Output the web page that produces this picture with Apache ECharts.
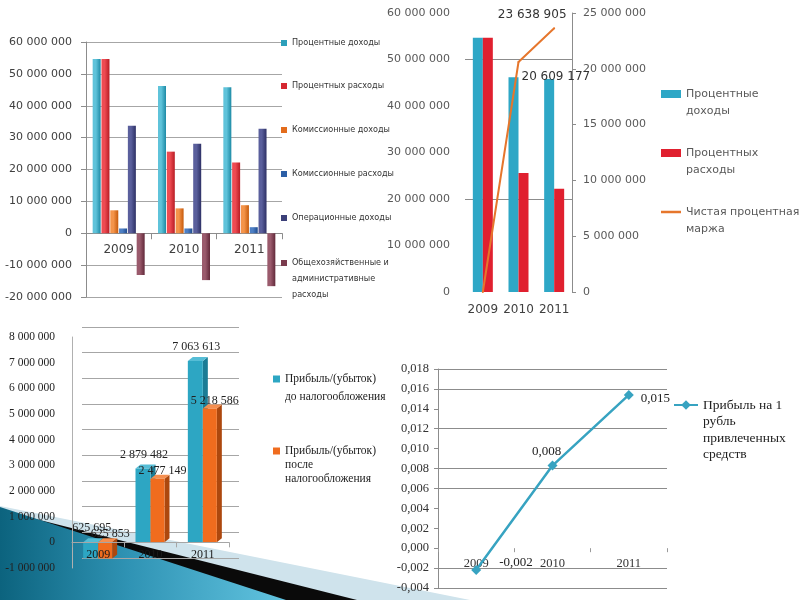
<!DOCTYPE html>
<html><head><meta charset="utf-8">
<script src="https://cdn.jsdelivr.net/npm/echarts/dist/echarts.min.js"></script>
<style>html,body{margin:0;padding:0;background:#fff}#c{width:800px;height:600px}</style>
</head><body><div id="c"></div>
<script>
// ---------- DATA ----------
const years = ['2009', '2010', '2011'];

// Chart 1 (top-left)
const names1 = ['Процентные доходы', 'Процентных расходы', 'Комиссионные доходы', 'Комиссионные расходы', 'Операционные доходы', 'Общехозяйственные и административные расходы'];
const interestIncome    = [54700000, 46200000, 45800000];
const interestExpense   = [54700000, 25600000, 22200000];
const commissionIncome  = [7200000, 7800000, 8800000];
const commissionExpense = [1500000, 1500000, 1900000];
const operatingIncome   = [33700000, 28100000, 32800000];
const adminExpense      = [-13100000, -14700000, -16600000];

// Chart 2 (top-right)
const names2 = ['Процентные доходы', 'Процентных расходы', 'Чистая процентная маржа'];
const netInterestMargin = [0, 20609177, 23638905];

// Chart 3 (bottom-left)
const names3 = ['Прибыль/(убыток) до налогообложения', 'Прибыль/(убыток) после налогообложения'];
const profitBeforeTax = [-625695, 2879482, 7063613];
const profitAfterTax  = [-625853, 2477149, 5218586];

// Chart 4 (bottom-right)
const names4 = ['Прибыль на 1 рубль привлеченных средств'];
const profitPerRuble = [-0.0022, 0.0083, 0.0154];

// ---------- HELPERS ----------
const SANS = "'DejaVu Sans', sans-serif";
const COND = "'Liberation Sans Narrow', 'DejaVu Sans Condensed', 'DejaVu Sans', sans-serif";
const SERIF = "'Liberation Serif', 'DejaVu Serif', serif";
function fmtInt(v) {
  const s = Math.round(Math.abs(v)).toString().replace(/\B(?=(\d{3})+(?!\d))/g, ' ');
  return (v < 0 ? '-' : '') + s;
}
function fmtDec(v) { return v.toFixed(3).replace('.', ','); }
function grad(a, b) {
  return new echarts.graphic.LinearGradient(0, 0, 1, 0, [{offset: 0, color: a}, {offset: 0.4, color: a}, {offset: 1, color: b}]);
}
function zeroOffset(h, min, max) { return -h * (0 - min) / (max - min); }
function mkLegend(name, left, yc, lines, L, font, o) {
  const n = lines.length;
  const pad = [];
  for (let i = 0; i < n - 1; i++) pad.push(' ');
  const txt = pad.concat(lines).join('\n');
  return {
    left: left, top: yc - (2 * n - 1) * L / 2, orient: 'vertical', padding: 0, itemGap: 0,
    selectedMode: false,
    data: [Object.assign({name: name}, o.data || {})],
    formatter: function () { return txt; },
    icon: o.icon, itemWidth: o.w, itemHeight: o.h,
    textStyle: {fontFamily: font.family, fontSize: font.size, color: font.color, lineHeight: L}
  };
}

const c1 = [
  ['#5fc3da', '#1d8aa5'], ['#ee4b52', '#b81c24'], ['#f4944a', '#c65a0c'],
  ['#4d7fc4', '#1f4b8e'], ['#5a5f9c', '#2d3065'], ['#9a5a6c', '#62293a']
];
const c1flat = ['#2c9fba', '#d52730', '#e36c1c', '#2c5fa6', '#3c4079', '#7a3b4d'];
const data1 = [interestIncome, interestExpense, commissionIncome, commissionExpense, operatingIncome, adminExpense];

const c3 = [
  {front: '#2da6c3', side: '#1b7c95', top: '#55bdd6'},
  {front: '#f06c1e', side: '#ad480e', top: '#f58f50'}
];
function render3D(k) {
  return function (params, api) {
    const idx = api.value(0), v = api.value(1);
    const p0 = api.coord([idx, 0]), p1 = api.coord([idx, v]);
    const cx = p0[0];
    const x0 = k === 0 ? cx - 15 : cx, x1 = k === 0 ? cx : cx + 14;
    const yHi = Math.min(p0[1], p1[1]), yLo = Math.max(p0[1], p1[1]);
    const dx = 5, dy = -4, c = c3[k];
    const lx = (x0 + x1) / 2 + (k === 0 ? 1 : 5), ly = yHi + (k === 0 ? -14 : -8);
    return {
      type: 'group',
      children: [
        {type: 'polygon', shape: {points: [[x1, yHi], [x1 + dx, yHi + dy], [x1 + dx, yLo + dy], [x1, yLo]]}, style: {fill: c.side}},
        {type: 'polygon', shape: {points: [[x0, yHi], [x0 + dx, yHi + dy], [x1 + dx, yHi + dy], [x1, yHi]]}, style: {fill: c.top}},
        {type: 'rect', shape: {x: x0, y: yHi, width: x1 - x0, height: Math.max(yLo - yHi, 0.5)}, style: {fill: c.front}},
        {type: 'text', x: lx, y: ly, style: {text: fmtInt(Math.abs(v)), font: "12px 'Liberation Serif', serif", fill: '#222',
          align: 'center', verticalAlign: 'middle', textAlign: 'center', textVerticalAlign: 'middle'}}
      ]
    };
  };
}

// ---------- OPTION ----------
const G = [
  {left: 86, top: 42, width: 196, height: 255},
  {left: 465, top: 13, width: 107, height: 279},
  {left: 72, top: 337, width: 157, height: 231},
  {left: 82, top: 327, width: 157, height: 231},
  {left: 438, top: 369, width: 229, height: 219}
];
const Y1 = {min: -20000000, max: 60000000}, Y3 = {min: -1000000, max: 8000000}, Y4 = {min: -0.004, max: 0.018};
const option = {
  animation: false,
  backgroundColor: '#fff',
  graphic: [
    {type: 'polygon', z: -10, silent: true, shape: {points: [[0, 506], [470, 600], [0, 600]]}, style: {fill: '#cfe3ec'}},
    {type: 'polygon', z: -9, silent: true, shape: {points: [[0, 510], [357, 600], [0, 600]]}, style: {fill: '#0a0a0a'}},
    {type: 'polygon', z: -8, silent: true, shape: {points: [[0, 507], [286, 600], [0, 600]]},
      style: {fill: new echarts.graphic.LinearGradient(0, 0, 1, 0, [{offset: 0, color: '#0c637e'}, {offset: 0.45, color: '#2f93b4'}, {offset: 1, color: '#62c4e0'}])}}
  ],
  grid: G.map(function (g) { return Object.assign({outerBoundsMode: 'none', containLabel: false}, g); }),
  xAxis: [
    {gridIndex: 0, type: 'category', data: years, offset: zeroOffset(G[0].height, Y1.min, Y1.max),
      axisLine: {onZero: false, lineStyle: {color: '#8c8c8c'}},
      axisTick: {show: true, length: 6, lineStyle: {color: '#8c8c8c'}},
      axisLabel: {interval: 0, margin: 11, fontFamily: SANS, fontSize: 12, color: '#404040'}},
    {gridIndex: 1, type: 'category', data: years,
      axisLine: {show: false}, axisTick: {show: false},
      axisLabel: {interval: 0, margin: 12, fontFamily: SANS, fontSize: 12, color: '#404040'}},
    {gridIndex: 2, type: 'category', data: years, offset: zeroOffset(G[2].height, Y3.min, Y3.max), z: 20,
      axisLine: {onZero: false, lineStyle: {color: '#a6a6a6'}},
      axisTick: {show: true, length: 5, lineStyle: {color: '#a6a6a6'}},
      axisLabel: {interval: 0, margin: 7, fontFamily: SERIF, fontSize: 12, color: '#1a1a1a'}},
    {gridIndex: 3, type: 'category', data: years, show: false},
    {gridIndex: 4, type: 'category', data: years, offset: zeroOffset(G[4].height, Y4.min, Y4.max),
      axisLine: {show: true, onZero: false, lineStyle: {color: 'rgba(0,0,0,0)'}},
      axisTick: {show: true, length: 4, lineStyle: {color: '#9a9a9a'}},
      axisLabel: {interval: 0, margin: 9, fontFamily: SERIF, fontSize: 12.5, color: '#333'}}
  ],
  yAxis: [
    {gridIndex: 0, type: 'value', min: Y1.min, max: Y1.max, interval: 10000000,
      axisLine: {show: true, lineStyle: {color: '#8c8c8c'}},
      axisTick: {show: true, length: 5, lineStyle: {color: '#8c8c8c'}},
      splitLine: {lineStyle: {color: '#a6a6a6'}},
      axisLabel: {margin: 14, fontFamily: SANS, fontSize: 11, color: '#404040', formatter: fmtInt}},
    {gridIndex: 1, type: 'value', min: 0, max: 60000000, interval: 10000000,
      axisLine: {show: false}, axisTick: {show: false},
      splitLine: {lineStyle: {color: ['rgba(0,0,0,0)', 'rgba(0,0,0,0)', '#8c8c8c', 'rgba(0,0,0,0)', 'rgba(0,0,0,0)', '#8c8c8c', 'rgba(0,0,0,0)']}},
      axisLabel: {margin: 15, fontFamily: SANS, fontSize: 11, color: '#595959', formatter: fmtInt}},
    {gridIndex: 1, type: 'value', position: 'right', min: 0, max: 25000000, interval: 5000000,
      axisLine: {show: true, lineStyle: {color: '#8c8c8c'}},
      axisTick: {show: true, length: 4, lineStyle: {color: '#8c8c8c'}},
      splitLine: {show: false},
      axisLabel: {margin: 11, fontFamily: SANS, fontSize: 11, color: '#595959', formatter: fmtInt}},
    {gridIndex: 2, type: 'value', min: Y3.min, max: Y3.max, interval: 1000000, z: 20,
      axisLine: {show: true, lineStyle: {color: '#b0b0b0'}},
      axisTick: {show: false},
      splitLine: {show: false},
      axisLabel: {margin: 17, fontFamily: SERIF, fontSize: 11.5, color: '#222', formatter: fmtInt}},
    {gridIndex: 3, type: 'value', min: Y3.min, max: Y3.max, interval: 1000000,
      axisLine: {show: false}, axisTick: {show: false}, axisLabel: {show: false},
      splitLine: {lineStyle: {color: '#a6a6a6'}}},
    {gridIndex: 4, type: 'value', min: Y4.min, max: Y4.max, interval: 0.002,
      axisLine: {show: true, lineStyle: {color: '#8c8c8c'}},
      axisTick: {show: true, length: 4, lineStyle: {color: '#8c8c8c'}},
      splitLine: {lineStyle: {color: ['#8c8c8c', '#8c8c8c', 'rgba(0,0,0,0)', 'rgba(0,0,0,0)', 'rgba(0,0,0,0)', '#8c8c8c', '#8c8c8c', 'rgba(0,0,0,0)', '#8c8c8c', 'rgba(0,0,0,0)', '#8c8c8c', '#8c8c8c']}},
      axisLabel: {margin: 9, fontFamily: SERIF, fontSize: 12.5, color: '#333', formatter: fmtDec}}
  ],
  legend: [],
  series: []
};

// Chart 1 series
names1.forEach(function (n, i) {
  option.series.push({name: n, type: 'bar', xAxisIndex: 0, yAxisIndex: 0, data: data1[i],
    barWidth: 8, barGap: '10%', itemStyle: {color: grad(c1[i][0], c1[i][1])}});
});
// Chart 2 series
option.series.push({name: names2[0], type: 'bar', xAxisIndex: 1, yAxisIndex: 1, data: interestIncome, barWidth: 10, barGap: 0, itemStyle: {color: '#2ea7c6'}});
option.series.push({name: names2[1], type: 'bar', xAxisIndex: 1, yAxisIndex: 1, data: interestExpense, barWidth: 10, barGap: 0, itemStyle: {color: '#e0202f'}});
const lab2 = [{show: false}, {show: true, position: 'right', distance: 2, offset: [0, 15]}, {show: true, position: 'top', distance: 4, offset: [-22, -2]}];
option.series.push({name: names2[2], type: 'line', xAxisIndex: 1, yAxisIndex: 2, symbol: 'circle', symbolSize: 2, showSymbol: true, z: 5,
  lineStyle: {color: '#e6762c', width: 2}, itemStyle: {color: '#e6762c'},
  data: netInterestMargin.map(function (v, i) { return {value: v, label: lab2[i]}; }),
  label: {fontFamily: SANS, fontSize: 12, color: '#333', formatter: function (p) { return fmtInt(p.value); }}});
// Chart 3 series
[profitBeforeTax, profitAfterTax].forEach(function (arr, k) {
  option.series.push({name: names3[k], type: 'custom', xAxisIndex: 2, yAxisIndex: 3, renderItem: render3D(k),
    itemStyle: {color: c3[k].front}, encode: {x: 0, y: 1}, z: 3 + k,
    data: arr.map(function (v, i) { return [i, v]; })});
});
// Chart 4 series
const lab4 = [{position: 'right', distance: 5, offset: [13, -8]}, {position: 'top', distance: 4, offset: [-6, 2]}, {position: 'right', distance: 7, offset: [0, 4]}];
option.series.push({name: names4[0], type: 'line', xAxisIndex: 4, yAxisIndex: 5, symbol: 'diamond', symbolSize: 10,
  lineStyle: {color: '#37a3c1', width: 2.5}, itemStyle: {color: '#37a3c1'},
  data: profitPerRuble.map(function (v, i) { return {value: v, label: lab4[i]}; }),
  label: {show: true, fontFamily: SERIF, fontSize: 13, color: '#222', formatter: function (p) { return fmtDec(p.value); }}});

// Legends
const f1 = {family: COND, size: 9, color: '#333'};
const ys1 = [43, 86, 130, 174, 218, 263];
const lines1 = [['Процентные доходы'], ['Процентных расходы'], ['Комиссионные доходы'], ['Комиссионные расходы'], ['Операционные доходы'], ['Общехозяйственные и', 'административные', 'расходы']];
names1.forEach(function (n, i) {
  option.legend.push(mkLegend(n, 281, ys1[i], lines1[i], 16, f1, {icon: 'rect', w: 6, h: 6, data: {itemStyle: {color: c1flat[i]}}}));
});
const f2 = {family: SANS, size: 11, color: '#595959'};
option.legend.push(mkLegend(names2[0], 661, 94, ['Процентные', 'доходы'], 17, f2, {icon: 'rect', w: 20, h: 8, data: {itemStyle: {color: '#2ea7c6'}}}));
option.legend.push(mkLegend(names2[1], 661, 153, ['Процентных', 'расходы'], 17, f2, {icon: 'rect', w: 20, h: 8, data: {itemStyle: {color: '#e0202f'}}}));
option.legend.push(mkLegend(names2[2], 661, 212, ['Чистая процентная', 'маржа'], 17, f2, {icon: 'rect', w: 20, h: 2.5, data: {itemStyle: {color: '#e6762c'}}}));
const f3 = {family: SERIF, size: 11.5, color: '#222'};
option.legend.push(mkLegend(names3[0], 273, 379, ['Прибыль/(убыток)', 'до налогообложения'], 18, f3, {icon: 'rect', w: 7, h: 7, data: {itemStyle: {color: c3[0].front}}}));
option.legend.push(mkLegend(names3[1], 273, 451, ['Прибыль/(убыток)', 'после', 'налогообложения'], 14, f3, {icon: 'rect', w: 7, h: 7, data: {itemStyle: {color: c3[1].front}}}));
const f4 = {family: SERIF, size: 13.5, color: '#222'};
option.legend.push(mkLegend(names4[0], 673, 405, ['Прибыль на 1', 'рубль', 'привлеченных', 'средств'], 16.5, f4, {w: 24, h: 12}));

const chart = echarts.init(document.getElementById('c'), null, {renderer: 'canvas'});
chart.setOption(option);
</script>
</body></html>
